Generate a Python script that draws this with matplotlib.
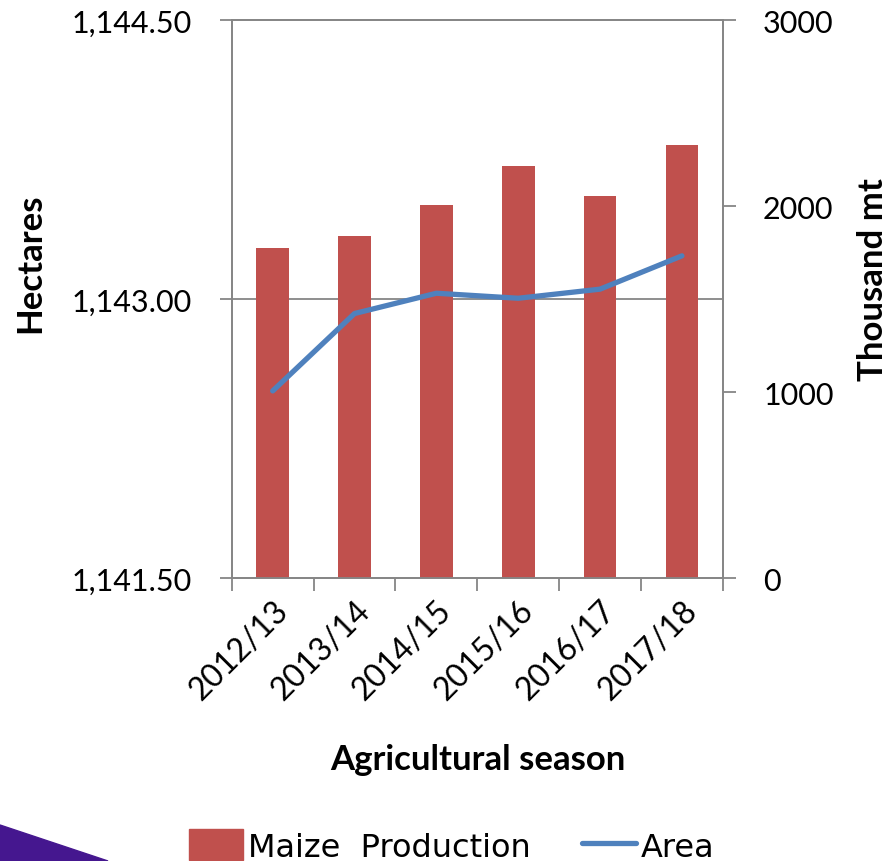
import matplotlib.pyplot as plt
import numpy as np
from matplotlib.patches import Patch, Polygon
from matplotlib.lines import Line2D
from matplotlib.ticker import FuncFormatter

seasons = ["2012/13", "2013/14", "2014/15", "2015/16", "2016/17", "2017/18"]
production = [1776, 1840, 2004, 2217, 2055, 2328]   # thousand mt (right axis)
area = [1142.507, 1142.923, 1143.032, 1143.005, 1143.054, 1143.233]  # hectares (left axis)

plt.rcParams['font.family'] = ['Lato', 'DejaVu Sans']
gray = '#868686'
bar_col = '#C0504D'
line_col = '#4F81BD'

fig = plt.figure(figsize=(8.88, 8.62), dpi=100)
ax = fig.add_axes([0.261, 0.328, 0.553, 0.6475])
ax2 = ax.twinx()
ax.set_zorder(ax2.get_zorder() + 1)
ax.patch.set_visible(False)

x = np.arange(len(seasons))
ax2.bar(x, production, width=0.4, color=bar_col, zorder=3)
ax.plot(x, area, color=line_col, lw=3.8, solid_capstyle='round', zorder=4)

ax.set_xlim(-0.5, len(seasons) - 0.5)
ax.set_ylim(1141.5, 1144.5)
ax.set_yticks([1141.5, 1143.0, 1144.5])
ax.yaxis.set_major_formatter(FuncFormatter(lambda v, p: f"{v:,.2f}"))
ax2.set_ylim(0, 3000)
ax2.set_yticks([0, 1000, 2000, 3000])

# gridline behind bars
ax2.set_yticks([1500], minor=True)
ax2.grid(which='minor', axis='y', color=gray, lw=1.3, zorder=0)
ax2.tick_params(axis='y', which='minor', length=0)

# category ticks between bars, labels at centers
ax.set_xticks(np.arange(-0.5, len(seasons)), labels=[''] * (len(seasons) + 1))
ax.set_xticks(x, minor=True)
ax.set_xticklabels(seasons, minor=True, rotation=45, ha='right', va='top',
                   rotation_mode='anchor', fontsize=23)
ax.tick_params(axis='x', which='minor', length=0, pad=12)
ax.tick_params(axis='x', which='major', length=9, color=gray, width=1.3)

ax.tick_params(axis='y', labelsize=22, length=9, color=gray, width=1.3, pad=20)
ax2.tick_params(axis='y', which='major', labelsize=22, length=9, color=gray, width=1.3, pad=20)

for a in (ax, ax2):
    for s in a.spines.values():
        s.set_color(gray)
        s.set_linewidth(1.3)

fig.text(30 / 888, 1 - 263 / 862, "Hectares", rotation=90, ha='center', va='center',
         fontsize=25, fontweight='bold')
fig.text(873 / 888, 1 - 280 / 862, "Thousand mt", rotation=90, ha='center', va='center',
         fontsize=25, fontweight='bold')
fig.text(478 / 888, 1 - 760 / 862, "Agricultural season", ha='center', va='center',
         fontsize=25, fontweight='bold')

handles = [Patch(color=bar_col), Line2D([0], [0], color=line_col, lw=3.8, solid_capstyle='round')]
fig.legend(handles, ["Maize  Production", "Area"], loc='center',
           bbox_to_anchor=(452 / 888, 1 - 847 / 862), ncol=2, frameon=False,
           prop={'family': ['Liberation Sans Narrow', 'DejaVu Sans'], 'size': 23},
           handlelength=1.7, handleheight=1.1, handletextpad=0.15, columnspacing=1.6)

# purple slide decoration, bottom-left corner
fig.patches.append(Polygon([(0, 1 - 826 / 862), (108 / 888, 0), (0, 0)], closed=True,
                           transform=fig.transFigure, color='#45178F', zorder=0))

fig.savefig('out.png', dpi=100)
